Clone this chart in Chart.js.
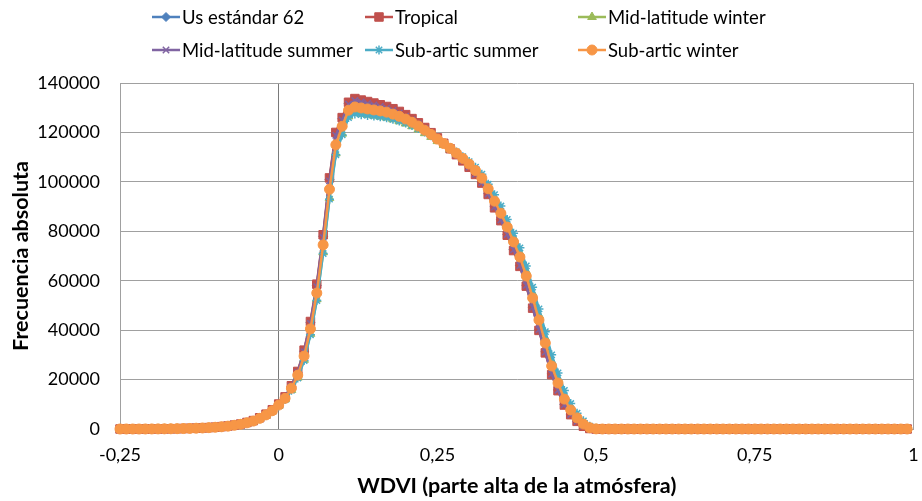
<!DOCTYPE html>
<html>
<head>
<meta charset="utf-8">
<script src="https://cdn.jsdelivr.net/npm/chart.js@4/dist/chart.umd.min.js"></script>
<style>
    html, body { margin: 0; padding: 0; background: #fff; overflow: hidden; }
    #wrap { width: 922px; height: 501px; }
    canvas { display: block; }
</style>
</head>
<body>
<div id="wrap"><canvas id="myChart" width="922" height="501"></canvas></div>
<script>
// Eje X: WDVI de -0,25 a 1 en pasos de 0,01
const X_VALUES = [
    -0.25, -0.24, -0.23, -0.22, -0.21, -0.20, -0.19, -0.18, -0.17, -0.16,
    -0.15, -0.14, -0.13, -0.12, -0.11, -0.10, -0.09, -0.08, -0.07, -0.06,
    -0.05, -0.04, -0.03, -0.02, -0.01,
    0.00, 0.01, 0.02, 0.03, 0.04, 0.05, 0.06, 0.07, 0.08, 0.09,
    0.10, 0.11, 0.12, 0.13, 0.14, 0.15, 0.16, 0.17, 0.18, 0.19,
    0.20, 0.21, 0.22, 0.23, 0.24, 0.25, 0.26, 0.27, 0.28, 0.29,
    0.30, 0.31, 0.32, 0.33, 0.34, 0.35, 0.36, 0.37, 0.38, 0.39,
    0.40, 0.41, 0.42, 0.43, 0.44, 0.45, 0.46, 0.47, 0.48, 0.49,
    0.50, 0.51, 0.52, 0.53, 0.54, 0.55, 0.56, 0.57, 0.58, 0.59,
    0.60, 0.61, 0.62, 0.63, 0.64, 0.65, 0.66, 0.67, 0.68, 0.69,
    0.70, 0.71, 0.72, 0.73, 0.74, 0.75, 0.76, 0.77, 0.78, 0.79,
    0.80, 0.81, 0.82, 0.83, 0.84, 0.85, 0.86, 0.87, 0.88, 0.89,
    0.90, 0.91, 0.92, 0.93, 0.94, 0.95, 0.96, 0.97, 0.98, 0.99,
    1.00
];

// Series (frecuencia absoluta)
const US_STANDARD_62 = [
    0, 0, 0, 0, 10, 20, 40, 70, 100, 140, 190, 250, 330, 430, 560, 720, 930, 1190, 1550, 1970,
    2600, 3350, 4500, 5900, 7700,
    10000, 12900, 17300, 23000, 31500, 43000, 58000, 78000, 101000, 119500,
    125500, 131800, 133300, 132700, 132100, 131500, 130900, 130200, 129300, 128200,
    126900, 125400, 123700, 121800, 119800, 117700, 115600, 113400, 111100, 108700,
    106100, 103200, 99800, 95200, 89900, 84700, 78800, 72600, 66200, 58200,
    49300, 40300, 31200, 22300, 15800, 9900, 6000, 3200, 1200, 200,
    0, 0, 0, 0, 0, 0, 0, 0, 0, 0,
    0, 0, 0, 0, 0, 0, 0, 0, 0, 0,
    0, 0, 0, 0, 0, 0, 0, 0, 0, 0,
    0, 0, 0, 0, 0, 0, 0, 0, 0, 0,
    0, 0, 0, 0, 0, 0, 0, 0, 0, 0
];

const TROPICAL = [
    0, 0, 0, 0, 10, 20, 40, 70, 100, 140, 200, 260, 340, 440, 570, 740, 950, 1220, 1580, 2010,
    2650, 3400, 4550, 6000, 7800,
    10100, 13000, 17500, 23300, 31900, 43500, 58600, 78600, 101600, 120000,
    126000, 132200, 133700, 133100, 132500, 131900, 131200, 130500, 129600, 128500,
    127200, 125600, 123900, 122000, 119900, 117800, 115600, 113400, 111000, 108500,
    105900, 103000, 99500, 94900, 89500, 84300, 78400, 72200, 65800, 57800,
    48900, 39900, 30800, 22000, 15500, 9700, 5800, 3100, 1100, 200,
    0, 0, 0, 0, 0, 0, 0, 0, 0, 0,
    0, 0, 0, 0, 0, 0, 0, 0, 0, 0,
    0, 0, 0, 0, 0, 0, 0, 0, 0, 0,
    0, 0, 0, 0, 0, 0, 0, 0, 0, 0,
    0, 0, 0, 0, 0, 0, 0, 0, 0, 0
];

const MID_LAT_WINTER = [
    0, 0, 0, 0, 10, 20, 40, 60, 90, 120, 170, 230, 310, 400, 520, 680, 870, 1120, 1460, 1850,
    2430, 3120, 4200, 5550, 7200,
    9400, 12000, 15800, 20800, 28000, 38500, 52500, 71500, 93500, 111500,
    119500, 126500, 128000, 127600, 127200, 126800, 126400, 126000, 125300, 124500,
    123600, 122500, 121200, 119700, 118200, 116500, 114900, 113200, 111400, 109500,
    107400, 105000, 102100, 98000, 93300, 88600, 83100, 77300, 71300, 63800,
    55000, 46100, 36800, 27400, 20300, 13500, 8700, 5200, 2500, 700,
    100, 0, 0, 0, 0, 0, 0, 0, 0, 0,
    0, 0, 0, 0, 0, 0, 0, 0, 0, 0,
    0, 0, 0, 0, 0, 0, 0, 0, 0, 0,
    0, 0, 0, 0, 0, 0, 0, 0, 0, 0,
    0, 0, 0, 0, 0, 0, 0, 0, 0, 0
];

const MID_LAT_SUMMER = [
    0, 0, 0, 0, 10, 20, 40, 70, 100, 140, 190, 250, 330, 430, 550, 710, 920, 1180, 1540, 1960,
    2580, 3330, 4470, 5870, 7650,
    9950, 12800, 17200, 22900, 31300, 42700, 57600, 77500, 100400, 118800,
    125000, 131400, 132900, 132300, 131700, 131100, 130500, 129800, 128900, 127900,
    126600, 125100, 123500, 121600, 119600, 117500, 115500, 113300, 111000, 108600,
    106000, 103100, 99700, 95100, 89800, 84600, 78700, 72500, 66100, 58100,
    49200, 40200, 31100, 22200, 15700, 9800, 5900, 3100, 1200, 200,
    0, 0, 0, 0, 0, 0, 0, 0, 0, 0,
    0, 0, 0, 0, 0, 0, 0, 0, 0, 0,
    0, 0, 0, 0, 0, 0, 0, 0, 0, 0,
    0, 0, 0, 0, 0, 0, 0, 0, 0, 0,
    0, 0, 0, 0, 0, 0, 0, 0, 0, 0
];

const SUB_ARTIC_SUMMER = [
    0, 0, 0, 0, 10, 20, 40, 60, 90, 120, 170, 230, 300, 400, 510, 670, 860, 1110, 1450, 1840,
    2420, 3100, 4180, 5520, 7150,
    9350, 11900, 15700, 20600, 27700, 38100, 52000, 71000, 93000, 111000,
    119000, 126000, 127500, 127200, 126900, 126600, 126300, 125900, 125300, 124600,
    123800, 122800, 121600, 120200, 118700, 117100, 115500, 113900, 112100, 110200,
    108200, 105900, 103100, 99000, 94800, 90200, 84800, 79200, 73300, 66000,
    57400, 48600, 39400, 30000, 22700, 15600, 10300, 6400, 3300, 1100,
    200, 0, 0, 0, 0, 0, 0, 0, 0, 0,
    0, 0, 0, 0, 0, 0, 0, 0, 0, 0,
    0, 0, 0, 0, 0, 0, 0, 0, 0, 0,
    0, 0, 0, 0, 0, 0, 0, 0, 0, 0,
    0, 0, 0, 0, 0, 0, 0, 0, 0, 0
];

const SUB_ARTIC_WINTER = [
    0, 0, 0, 0, 10, 20, 40, 60, 90, 130, 180, 240, 320, 420, 540, 700, 900, 1150, 1500, 1900,
    2500, 3200, 4300, 5700, 7400,
    9700, 12400, 16500, 21800, 29500, 40500, 55000, 74500, 97000, 115000,
    122500, 129000, 130300, 129900, 129500, 129100, 128700, 128200, 127400, 126500,
    125400, 124100, 122600, 120900, 119200, 117300, 115500, 113600, 111600, 109500,
    107200, 104600, 101500, 97200, 92200, 87300, 81700, 75700, 69600, 61900,
    53000, 44100, 34800, 25500, 18600, 12100, 7700, 4500, 2000, 500,
    50, 0, 0, 0, 0, 0, 0, 0, 0, 0,
    0, 0, 0, 0, 0, 0, 0, 0, 0, 0,
    0, 0, 0, 0, 0, 0, 0, 0, 0, 0,
    0, 0, 0, 0, 0, 0, 0, 0, 0, 0,
    0, 0, 0, 0, 0, 0, 0, 0, 0, 0
];

const SERIES_LABELS = [
    'Us estándar 62', 'Tropical', 'Mid-latitude winter',
    'Mid-latitude summer', 'Sub-artic summer', 'Sub-artic winter'
];
const SERIES_VALUES = [
    US_STANDARD_62, TROPICAL, MID_LAT_WINTER,
    MID_LAT_SUMMER, SUB_ARTIC_SUMMER, SUB_ARTIC_WINTER
];

// Estilo tipo Excel 2010
const COLORS = ['#4F81BD', '#C0504D', '#9BBB59', '#8064A2', '#4BACC6', '#F79646'];
const POINT_STYLES = ['rectRot', 'rect', 'triangle', 'crossRot', 'star', 'circle'];
const POINT_RADIUS = [4.5, 6, 5, 4.5, 4.5, 5];
const POINT_BORDER = [1, 1, 1, 1.5, 1.5, 1];

const FONT = 'Lato, "Liberation Sans", sans-serif';

function toPoints(values) {
    return X_VALUES.map((x, i) => ({ x: x, y: values[i] }));
}

const datasets = SERIES_VALUES.map((values, i) => ({
    label: SERIES_LABELS[i],
    data: toPoints(values),
    showLine: true,
    borderColor: COLORS[i],
    backgroundColor: COLORS[i],
    borderWidth: 2.5,
    pointStyle: POINT_STYLES[i],
    pointRadius: POINT_RADIUS[i],
    pointBorderWidth: POINT_BORDER[i],
    pointBackgroundColor: COLORS[i],
    pointBorderColor: COLORS[i],
    order: SERIES_VALUES.length - i,
    clip: false
}));

// Leyenda en rejilla (3 columnas x 2 filas), centrada como en Excel
const gridLegend = {
    id: 'gridLegend',
    afterDraw(chart) {
        const ctx = chart.ctx;
        ctx.save();
        chart.data.datasets.forEach((ds, i) => {
            const col = i % 3;
            const row = Math.floor(i / 3);
            const x0 = 152 + col * 213;
            const y = 17 + row * 33;
            ctx.strokeStyle = ds.borderColor;
            ctx.fillStyle = ds.borderColor;
            ctx.lineWidth = 2.5;
            ctx.beginPath();
            ctx.moveTo(x0, y);
            ctx.lineTo(x0 + 28, y);
            ctx.stroke();
            ctx.lineWidth = ds.pointBorderWidth;
            Chart.helpers.drawPoint(ctx, {
                pointStyle: ds.pointStyle,
                radius: ds.pointRadius,
                rotation: 0,
                borderWidth: ds.pointBorderWidth
            }, x0 + 14, y);
            ctx.fillStyle = '#000';
            ctx.font = '18.5px ' + FONT;
            ctx.textBaseline = 'middle';
            ctx.textAlign = 'left';
            ctx.fillText(ds.label, x0 + 30, y + 1);
        });
        ctx.restore();
    }
};

const near = (a, b) => Math.abs(a - b) < 1e-9;

const chart = new Chart(document.getElementById('myChart'), {
    type: 'scatter',
    data: { datasets: datasets },
    plugins: [gridLegend],
    options: {
        responsive: false,
        animation: false,
        devicePixelRatio: 1,
        layout: { autoPadding: false, padding: { top: 83, right: 8.5, left: 0, bottom: 0 } },
        plugins: {
            legend: { display: false },
            tooltip: { enabled: false }
        },
        scales: {
            x: {
                type: 'linear',
                min: -0.25,
                max: 1,
                afterFit: (scale) => {
                    scale.height = 72;
                    scale.paddingLeft = 0;
                    scale.paddingRight = 0;
                },
                ticks: {
                    stepSize: 0.25,
                    maxRotation: 0,
                    padding: 15,
                    color: '#000',
                    font: { family: FONT, size: 18 },
                    callback: (v) => String(Number(v.toFixed(2))).replace('.', ',')
                },
                grid: {
                    drawTicks: false,
                    lineWidth: 1,
                    color: (c) => {
                        const v = c.tick ? c.tick.value : null;
                        if (v !== null && near(v, 0)) return '#7a7a7a';
                        if (v !== null && near(v, 1)) return '#a0a0a0';
                        return 'rgba(0,0,0,0)';
                    }
                },
                border: { display: true, color: '#a0a0a0' },
                title: {
                    display: true,
                    text: 'WDVI (parte alta de la atmósfera)',
                    color: '#000',
                    font: { family: FONT, size: 21.5, weight: 'bold' },
                    padding: { top: 0, bottom: 2 }
                }
            },
            y: {
                min: 0,
                max: 140000,
                afterFit: (scale) => {
                    scale.width = 120;
                    scale.paddingTop = 0;
                    scale.paddingBottom = 0;
                },
                ticks: {
                    stepSize: 20000,
                    padding: 20,
                    color: '#000',
                    font: { family: FONT, size: 18 },
                    callback: (v) => String(v)
                },
                grid: { drawTicks: false, color: '#a0a0a0', lineWidth: 1 },
                border: { display: true, color: '#a0a0a0' },
                title: {
                    display: true,
                    text: 'Frecuencia absoluta',
                    color: '#000',
                    font: { family: FONT, size: 21.5, weight: 'bold' },
                    padding: { top: 8, bottom: 0 }
                }
            }
        }
    }
});
</script>
</body>
</html>
